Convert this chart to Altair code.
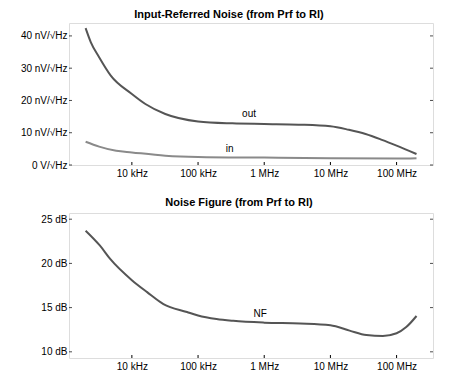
import altair as alt
import pandas as pd

# ---- data ----
freq_out = [2000, 2400, 3200, 4800, 10000, 16000, 32000, 100000, 330000,
            1e6, 3.3e6, 1e7, 1.9e7, 3.4e7, 6e7, 1e8, 2e8]
out_vals = [42.4, 38.0, 33.4, 27.7, 22.0, 18.9, 15.8, 13.5, 12.9,
            12.7, 12.5, 12.0, 10.9, 9.6, 7.8, 6.0, 3.4]

freq_in = [2000, 3200, 5800, 10000, 32000, 1e5, 1e6, 1e7, 1e8, 2e8]
in_vals = [7.2, 5.7, 4.4, 3.9, 2.9, 2.5, 2.3, 2.1, 2.0, 2.1]

freq_nf = [2000, 3300, 4700, 10000, 17000, 30000, 68000, 1e5, 190000, 340000,
           1e6, 3.5e6, 1e7, 1.95e7, 3.5e7, 6.2e7, 1e8, 1.4e8, 2e8]
nf_vals = [23.7, 22.0, 20.5, 18.1, 16.75, 15.4, 14.5, 14.1, 13.7, 13.5,
           13.3, 13.2, 13.0, 12.4, 11.9, 11.8, 12.1, 12.8, 14.05]

noise_labels = ["out", "in"]
noise_label_freq = [590000, 300000]
noise_label_vals = [15.8, 5.0]

nf_labels = ["NF"]
nf_label_freq = [870000]
nf_label_vals = [14.3]

x_tick_values = [1e4, 1e5, 1e6, 1e7, 1e8]
x_tick_labels = ["10 kHz", "100 kHz", "1 MHz", "10 MHz", "100 MHz"]
noise_ticks = [0, 10, 20, 30, 40]
noise_tick_labels = ["0 V/√Hz", "10 nV/√Hz", "20 nV/√Hz", "30 nV/√Hz", "40 nV/√Hz"]
nf_ticks = [10, 15, 20, 25]
nf_tick_labels = ["10 dB", "15 dB", "20 dB", "25 dB"]

x_domain = [1122, 3.55e8]
noise_domain = [0, 44]
nf_domain = [9.3, 25.7]

FONT = "Liberation Sans"
W = 364
TICK = 3


def label_expr(values, labels):
    parts = [f"datum.value == {v} ? '{l}'" for v, l in zip(values, labels)]
    return " : ".join(parts) + " : ''"


noise_df = pd.concat([
    pd.DataFrame({"f": freq_out, "v": out_vals, "s": "out"}),
    pd.DataFrame({"f": freq_in, "v": in_vals, "s": "in"}),
])
noise_lbl_df = pd.DataFrame({"f": noise_label_freq, "v": noise_label_vals, "t": noise_labels})
nf_df = pd.DataFrame({"f": freq_nf, "v": nf_vals, "s": "NF"})
nf_lbl_df = pd.DataFrame({"f": nf_label_freq, "v": nf_label_vals, "t": nf_labels})
xt_df = pd.DataFrame({"t": x_tick_values})

x_axis = alt.Axis(values=x_tick_values, labelExpr=label_expr(x_tick_values, x_tick_labels),
                  orient="bottom", ticks=False, domain=False, grid=False,
                  labelPadding=3, labelFontSize=10, labelFont=FONT, labelColor="black",
                  title=None, labelFlush=False)


def left_axis(vals, labels):
    return alt.Axis(values=vals, labelExpr=label_expr(vals, labels), orient="left",
                    ticks=False, domain=False, grid=False, labelPadding=2,
                    labelFontSize=10, labelFont=FONT, labelColor="black",
                    title=None, minExtent=55, maxExtent=55)


xs = alt.Scale(type="log", domain=x_domain, nice=False)
color_scale = alt.Scale(domain=["out", "in", "NF"], range=["#555555", "#8a8a8a", "#555555"])


def panel(df, lbl_df, ydom, ticks, tick_labels, title, dx, h, toff):
    ys = alt.Scale(domain=ydom, nice=False, zero=False)
    yax = left_axis(ticks, tick_labels)
    yt_df = pd.DataFrame({"t": ticks})
    lines = alt.Chart(df).mark_line(strokeWidth=2, interpolate="monotone").encode(
        x=alt.X("f:Q", scale=xs, axis=x_axis),
        y=alt.Y("v:Q", scale=ys, axis=yax),
        color=alt.Color("s:N", scale=color_scale, legend=None),
        detail="s:N",
    )
    texts = alt.Chart(lbl_df).mark_text(fontSize=10, font=FONT, color="black").encode(
        x=alt.X("f:Q", scale=xs, axis=x_axis),
        y=alt.Y("v:Q", scale=ys, axis=yax),
        text="t:N",
    )
    yticks_l = alt.Chart(yt_df).mark_tick(color="black", thickness=1, size=TICK,
                                          orient="horizontal").encode(
        y=alt.Y("t:Q", scale=ys, axis=yax),
        x=alt.value(TICK / 2),
    )
    yticks_r = alt.Chart(yt_df).mark_tick(color="black", thickness=1, size=TICK,
                                          orient="horizontal").encode(
        y=alt.Y("t:Q", scale=ys, axis=yax),
        x=alt.value(W - TICK / 2),
    )
    xticks = alt.Chart(xt_df).mark_rule(color="black", strokeWidth=1).encode(
        x=alt.X("t:Q", scale=xs, axis=x_axis),
        y=alt.value(h - TICK), y2=alt.value(h),
    )
    return alt.layer(lines, texts, yticks_l, yticks_r, xticks).properties(
        width=W, height=h,
        title=alt.TitleParams(title, font=FONT, fontSize=11, fontWeight="bold",
                              anchor="middle", dx=dx, offset=toff, color="black"),
    )


top = panel(noise_df, noise_lbl_df, noise_domain, noise_ticks, noise_tick_labels,
            "Input-Referred Noise (from Prf to Rl)", -22, 142, 3)
bottom = panel(nf_df, nf_lbl_df, nf_domain, nf_ticks, nf_tick_labels,
               "Noise Figure (from Prf to Rl)", -12, 145, 5)

chart = alt.vconcat(top, bottom, spacing=17).properties(
    padding={"left": 5, "top": 0, "right": 5, "bottom": 0}
).configure_view(stroke="black", strokeWidth=1).configure(background="white")

chart.save("out.html", embed_options={"renderer": "svg", "actions": False})
